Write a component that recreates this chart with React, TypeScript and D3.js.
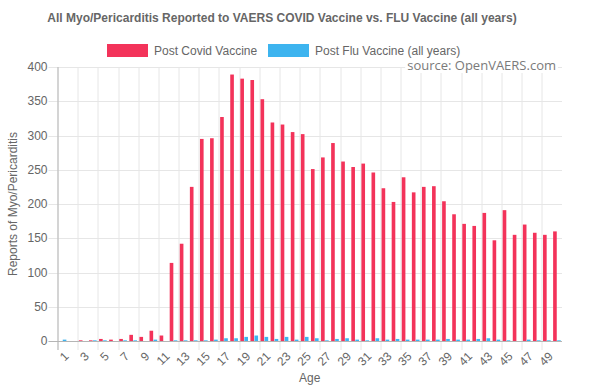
import { useRef, useEffect } from 'react';
import { select, scaleBand, scaleLinear, range } from 'd3';

const ages = range(1, 51).map(String);
const covid = [0, 0, 1, 1, 3, 2, 3, 9, 6, 15, 8, 114, 142, 225, 295, 296, 327, 389, 383, 381, 353, 319, 316, 305, 302, 251, 268, 289, 262, 254, 259, 246, 223, 203, 239, 217, 225, 226, 204, 185, 171, 168, 187, 147, 191, 155, 170, 158, 155, 160];
const flu = [2, 0, 0, 1, 1, 0, 1, 1, 0, 2, 0, 1, 1, 1, 1, 2, 4, 4, 6, 8, 6, 3, 6, 2, 6, 4, 1, 3, 4, 2, 1, 4, 2, 3, 2, 2, 2, 2, 3, 2, 2, 3, 4, 2, 1, 0, 2, 1, 1, 1];
const yTicks = [0, 50, 100, 150, 200, 250, 300, 350, 400];
const seriesNames = ['Post Covid Vaccine', 'Post Flu Vaccine (all years)'];
const seriesColors = ['#f3335a', '#3db4ef'];

const FONT = '"Liberation Sans", Arial, Helvetica, sans-serif';

export default function App() {
  const svgRef = useRef<SVGSVGElement>(null);

  useEffect(() => {
    if (!svgRef.current) return;
    const svg = select(svgRef.current);
    svg.selectAll('*').remove();

    const width = 590;
    const height = 392;
    const margin = { top: 67, right: 28, bottom: 51, left: 57.5 };
    const innerW = width - margin.left - margin.right;
    const innerH = height - margin.top - margin.bottom;

    const x = scaleBand<string>().domain(ages).range([0, innerW]);
    const bw = x.bandwidth();
    const xs = scaleBand<number>().domain([0, 1]).range([bw * 0.1, bw * 0.9]).paddingInner(0.1).paddingOuter(0.05);
    const y = scaleLinear().domain([0, 400]).range([innerH, 0]);

    const g = svg.append('g').attr('transform', `translate(${margin.left},${margin.top})`);

    // Grid
    g.selectAll('.hgrid').data(yTicks).join('line')
      .attr('x1', -9).attr('x2', innerW)
      .attr('y1', d => Math.round(y(d)) + 0.5).attr('y2', d => Math.round(y(d)) + 0.5)
      .attr('stroke', '#e6e6e6').attr('stroke-width', 1);

    const evenBounds = ages.filter((_, i) => i % 2 === 0);
    g.selectAll('.vgrid').data(evenBounds).join('line')
      .attr('x1', d => Math.round(x(d)!) + 0.5).attr('x2', d => Math.round(x(d)!) + 0.5)
      .attr('y1', 0).attr('y2', innerH + 9)
      .attr('stroke', '#e6e6e6').attr('stroke-width', 1);

    // Bars
    const series = [covid, flu];
    series.forEach((vals, si) => {
      g.append('g').selectAll('rect').data(vals).join('rect')
        .attr('x', (_, i) => x(ages[i])! + xs(si)!)
        .attr('width', xs.bandwidth())
        .attr('y', d => y(d))
        .attr('height', d => innerH - y(d))
        .attr('fill', seriesColors[si]);
    });

    // Axis lines
    g.append('line').attr('x1', 0.5).attr('x2', 0.5).attr('y1', 0).attr('y2', innerH + 9)
      .attr('stroke', '#b5b5b5');
    g.append('line').attr('x1', -9).attr('x2', innerW).attr('y1', Math.round(innerH) + 0.5).attr('y2', Math.round(innerH) + 0.5)
      .attr('stroke', '#b5b5b5');

    // Y ticks
    g.selectAll('.ytick').data(yTicks).join('text')
      .attr('x', -10).attr('y', d => y(d)).attr('dy', '0.35em')
      .attr('text-anchor', 'end').attr('fill', '#666')
      .style('font-size', '12px').style('font-family', FONT)
      .text(d => String(d));

    // X ticks
    const oddAges = ages.filter((_, i) => i % 2 === 0);
    g.selectAll('.xtick').data(oddAges).join('text')
      .attr('transform', d => `translate(${x(d)! + bw / 2 + 1},${innerH + 10}) rotate(-45)`)
      .attr('dy', '0.7em')
      .attr('text-anchor', 'end').attr('fill', '#666')
      .style('font-size', '12px').style('font-family', FONT)
      .text(d => d);

    // Axis titles
    svg.append('text')
      .attr('x', margin.left + innerW / 2).attr('y', 382)
      .attr('text-anchor', 'middle').attr('fill', '#666')
      .style('font-size', '12px').style('font-family', FONT)
      .text('Age');
    svg.append('text')
      .attr('transform', `translate(17,${margin.top + innerH / 2}) rotate(-90)`)
      .attr('text-anchor', 'middle').attr('fill', '#666')
      .style('font-size', '12px').style('font-family', FONT)
      .text('Reports of Myo/Pericarditis');

    // Title
    svg.append('text')
      .attr('x', 282).attr('y', 22)
      .attr('text-anchor', 'middle').attr('fill', '#666')
      .style('font-size', '12px').style('font-weight', 'bold').style('font-family', FONT)
      .text('All Myo/Pericarditis Reported to VAERS COVID Vaccine vs. FLU Vaccine (all years)');

    // Legend
    const legendX = [107, 268];
    seriesNames.forEach((name, i) => {
      svg.append('rect').attr('x', legendX[i]).attr('y', 44).attr('width', 41).attr('height', 13)
        .attr('fill', seriesColors[i]);
      svg.append('text').attr('x', legendX[i] + 47).attr('y', 55)
        .attr('fill', '#666').style('font-size', '12px').style('font-family', FONT)
        .text(name);
    });

    // Source label
    const src = svg.append('g');
    const srcRect = src.append('rect').attr('fill', '#fff');
    const srcText = src.append('text').attr('x', 556).attr('y', 70)
      .attr('text-anchor', 'end').attr('fill', '#7a7a7a')
      .style('font-size', '13px').style('font-family', '"Open Sans", sans-serif')
      .text('source: OpenVAERS.com');
    const bb = (srcText.node() as SVGTextElement).getBBox();
    srcRect.attr('x', bb.x - 2).attr('y', bb.y + 2).attr('width', bb.width + 4).attr('height', bb.height - 3);
  }, []);

  return (
    <div style={{ position: 'absolute', left: 0, top: 0, background: '#fff' }}>
      <svg ref={svgRef} width={590} height={392} />
    </div>
  );
}
